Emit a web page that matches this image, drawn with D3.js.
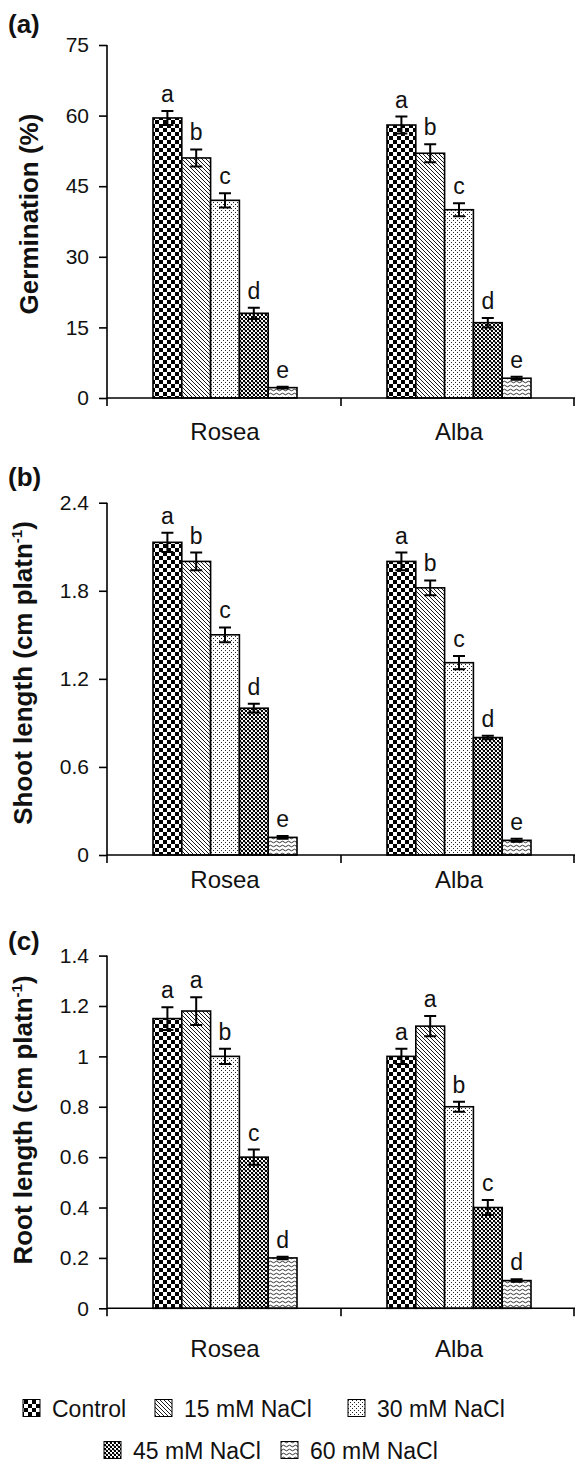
<!DOCTYPE html>
<html><head><meta charset="utf-8">
<script src="https://cdn.jsdelivr.net/npm/d3@7"></script>
<style>body{margin:0;background:#fff}svg{display:block}text{font-family:"Liberation Sans",Arial,Helvetica,sans-serif;fill:#111}</style>
</head><body><svg id="c" width="575" height="1471"></svg>
<script>
// ---------- data ----------
const categories = ["Rosea", "Alba"];
const treatments = ["Control", "15 mM NaCl", "30 mM NaCl", "45 mM NaCl", "60 mM NaCl"];

const germRosea = [59.5, 51, 42, 18, 2.2];
const germRoseaErr = [1.5, 1.8, 1.5, 1.2, 0.2];
const germAlba = [58, 52, 40, 16, 4.2];
const germAlbaErr = [1.8, 1.9, 1.4, 1.0, 0.3];
const germLetters = [["a","b","c","d","e"], ["a","b","c","d","e"]];
const germTicks = [0, 15, 30, 45, 60, 75];
const germTickLabels = ["0", "15", "30", "45", "60", "75"];

const shootRosea = [2.13, 2.0, 1.5, 1.0, 0.12];
const shootRoseaErr = [0.065, 0.06, 0.05, 0.03, 0.01];
const shootAlba = [2.0, 1.82, 1.31, 0.8, 0.1];
const shootAlbaErr = [0.06, 0.05, 0.045, 0.012, 0.01];
const shootLetters = [["a","b","c","d","e"], ["a","b","c","d","e"]];
const shootTicks = [0, 0.6, 1.2, 1.8, 2.4];
const shootTickLabels = ["0", "0.6", "1.2", "1.8", "2.4"];

const rootRosea = [1.15, 1.18, 1.0, 0.6, 0.2];
const rootRoseaErr = [0.045, 0.055, 0.03, 0.03, 0.005];
const rootAlba = [1.0, 1.12, 0.8, 0.4, 0.11];
const rootAlbaErr = [0.03, 0.04, 0.02, 0.03, 0.005];
const rootLetters = [["a","a","b","c","d"], ["a","a","b","c","d"]];
const rootTicks = [0, 0.2, 0.4, 0.6, 0.8, 1.0, 1.2, 1.4];
const rootTickLabels = ["0", "0.2", "0.4", "0.6", "0.8", "1", "1.2", "1.4"];

const panelTags = ["(a)", "(b)", "(c)"];

// ---------- panels (data + layout) ----------
const panels = [
  { tag: panelTags[0], values: [germRosea, germAlba], errs: [germRoseaErr, germAlbaErr], letters: germLetters,
    ticks: germTicks, tickLabels: germTickLabels, max: 75,
    title: ["Germination (%)", null, null],
    top: 45, bottom: 398, tagY: 33, titleX: 38, titleY: 214, catY: 440 },
  { tag: panelTags[1], values: [shootRosea, shootAlba], errs: [shootRoseaErr, shootAlbaErr], letters: shootLetters,
    ticks: shootTicks, tickLabels: shootTickLabels, max: 2.4,
    title: ["Shoot length (cm platn", "-1", ")"],
    top: 502.7, bottom: 855, tagY: 486, titleX: 32, titleY: 673, catY: 888 },
  { tag: panelTags[2], values: [rootRosea, rootAlba], errs: [rootRoseaErr, rootAlbaErr], letters: rootLetters,
    ticks: rootTicks, tickLabels: rootTickLabels, max: 1.4,
    title: ["Root length (cm platn", "-1", ")"],
    top: 955.6, bottom: 1308.3, tagY: 950, titleX: 32, titleY: 1120, catY: 1357 }
];

const svg = d3.select("#c");
const defs = svg.append("defs");

// ---------- patterns ----------
function pat(id, w, h) {
  const p = defs.append("pattern").attr("id", id).attr("patternUnits", "userSpaceOnUse")
    .attr("width", w).attr("height", h);
  p.append("rect").attr("width", w).attr("height", h).attr("fill", "#fff");
  return p;
}
{ const p = pat("p0", 8, 8);
  p.append("rect").attr("x", 0).attr("y", 0).attr("width", 4).attr("height", 4).attr("fill", "#000");
  p.append("rect").attr("x", 4).attr("y", 4).attr("width", 4).attr("height", 4).attr("fill", "#000"); }
{ const p = pat("p1", 4, 4);
  p.append("path").attr("d", "M0,0L4,4M-1,3L1,5M3,-1L5,1").attr("stroke", "#000").attr("stroke-width", 0.9); }
{ const p = pat("p2", 4, 4);
  p.append("rect").attr("x", 0).attr("y", 0).attr("width", 1).attr("height", 1).attr("fill", "#222");
  p.append("rect").attr("x", 2).attr("y", 2).attr("width", 1).attr("height", 1).attr("fill", "#222"); }
{ const p = pat("p3", 4, 4);
  p.append("rect").attr("x", 0).attr("y", 0).attr("width", 2).attr("height", 2).attr("fill", "#000");
  p.append("rect").attr("x", 2).attr("y", 2).attr("width", 2).attr("height", 2).attr("fill", "#000");
  p.append("rect").attr("x", 1).attr("y", 1).attr("width", 2).attr("height", 2).attr("fill", "#000").attr("opacity", 0.3); }
{ const p = pat("p4", 6, 4);
  p.append("path").attr("d", "M0,2Q1.5,0.4 3,2T6,2").attr("fill", "none").attr("stroke", "#000").attr("stroke-width", 0.8); }
const fills = ["url(#p0)", "url(#p1)", "url(#p2)", "url(#p3)", "url(#p4)"];

// ---------- scales ----------
const x0 = d3.scaleBand().domain(categories).range([107, 575]).paddingInner(0).paddingOuter(0);
const groupW = 144;
const x1 = d3.scaleBand().domain(treatments)
  .range([(x0.bandwidth() - groupW) / 2 + 1, (x0.bandwidth() + groupW) / 2 + 1]).padding(0);

panels.forEach(P => {
  const y = d3.scaleLinear().domain([0, P.max]).range([P.bottom, P.top]);
  const g = svg.append("g");

  // bars
  categories.forEach((cat, ci) => {
    const gg = g.append("g").attr("transform", `translate(${x0(cat)},0)`);
    const rows = treatments.map((t, ti) => ({ t, ti, v: P.values[ci][ti], e: P.errs[ci][ti], l: P.letters[ci][ti] }));
    gg.selectAll("rect.bar").data(rows).join("rect").attr("class", "bar")
      .attr("x", d => x1(d.t)).attr("width", x1.bandwidth())
      .attr("y", d => y(d.v)).attr("height", d => y(0) - y(d.v))
      .attr("fill", d => fills[d.ti]).attr("stroke", "#000").attr("stroke-width", 1.6);
    const cx = d => x1(d.t) + x1.bandwidth() / 2;
    gg.selectAll("path.err").data(rows).join("path").attr("class", "err")
      .attr("d", d => {
        const a = y(d.v + d.e), b = y(d.v - d.e), c = cx(d);
        return `M${c},${a}L${c},${b}M${c - 6},${a}L${c + 6},${a}M${c - 6},${b}L${c + 6},${b}`;
      })
      .attr("stroke", "#000").attr("stroke-width", 2).attr("fill", "none");
    gg.selectAll("text.lt").data(rows).join("text").attr("class", "lt")
      .attr("x", cx).attr("y", d => y(d.v + d.e) - 9)
      .attr("text-anchor", "middle").attr("font-size", 23).text(d => d.l);
  });

  // y axis
  const ya = d3.axisLeft(y).tickValues(P.ticks).tickSize(8).tickPadding(10)
    .tickFormat((d, i) => P.tickLabels[i]);
  const yg = g.append("g").attr("transform", "translate(107,0)").call(ya);
  yg.select(".domain").attr("d", `M0,${P.top}V${P.bottom + 8}`).attr("stroke", "#000").attr("stroke-width", 1.6);
  yg.selectAll(".tick line").attr("stroke", "#000").attr("stroke-width", 1.6);
  yg.selectAll(".tick text").attr("font-size", 21).attr("font-family", "Liberation Sans, Arial, sans-serif").attr("fill", "#111");

  // x axis
  const xa = d3.axisBottom(x0).tickSize(0).tickPadding(0).tickFormat(() => "");
  const xg = g.append("g").attr("transform", `translate(0,${P.bottom})`).call(xa);
  xg.select(".domain").attr("d", `M107,0H575`).attr("stroke", "#000").attr("stroke-width", 1.6);
  const bounds = [x0.range()[0] + x0.bandwidth(), x0.range()[1] - 1];
  xg.selectAll("line.sep").data(bounds).join("line").attr("class", "sep")
    .attr("x1", d => d).attr("x2", d => d).attr("y1", 0).attr("y2", 8)
    .attr("stroke", "#000").attr("stroke-width", 1.6);
  g.selectAll("text.cat").data(categories).join("text").attr("class", "cat")
    .attr("x", d => x0(d) + x0.bandwidth() / 2 + 1).attr("y", P.catY)
    .attr("text-anchor", "middle").attr("font-size", 24).text(d => d);

  // titles
  g.append("text").attr("x", 8).attr("y", P.tagY).attr("font-size", 26).attr("font-weight", "bold").text(P.tag);
  const t = g.append("text").attr("transform", `translate(${P.titleX},${P.titleY}) rotate(-90)`)
    .attr("text-anchor", "middle").attr("font-size", 26).attr("font-weight", "bold");
  t.append("tspan").text(P.title[0]);
  if (P.title[1]) {
    t.append("tspan").attr("font-size", 15).attr("dy", -10).text(P.title[1]);
    t.append("tspan").attr("dy", 10).text(P.title[2]);
  }
});

// ---------- legend ----------
const legendRows = [[0, 1, 2], [3, 4]];
const legendLayout = [{ y: 1408, xs: [23, 155, 348] }, { y: 1450, xs: [104, 281] }];
legendRows.forEach((row, ri) => {
  const L = legendLayout[ri];
  row.forEach((ti, k) => {
    const lx = L.xs[k];
    svg.append("rect").attr("x", lx).attr("y", L.y - 8.5).attr("width", 17).attr("height", 17)
      .attr("fill", fills[ti]).attr("stroke", "#000").attr("stroke-width", 1);
    svg.append("text").attr("x", lx + 29).attr("y", L.y + 8.5).attr("font-size", 23).text(treatments[ti]);
  });
});
</script></body></html>
